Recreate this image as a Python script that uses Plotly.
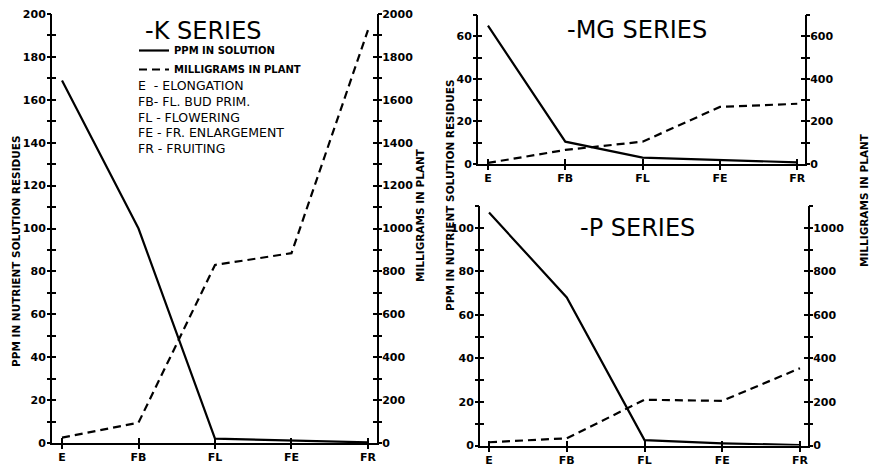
import plotly.graph_objects as go

# ---------------- data ----------------
stages = ["E", "FB", "FL", "FE", "FR"]

k_ppm = [169, 100, 2, 1, 0.3]
k_mg = [25, 95, 830, 885, 1925]

mg_ppm = [65, 10.5, 3, 1.8, 0.8]
mg_mg = [5, 66, 105, 268, 283]

p_ppm = [107, 68, 2.5, 1, 0.2]
p_mg = [15, 33, 210, 205, 355]

stage_key = [
    "E  - ELONGATION",
    "FB- FL. BUD PRIM.",
    "FL - FLOWERING",
    "FE - FR. ENLARGEMENT",
    "FR - FRUITING",
]
series_titles = ["-K SERIES", "-MG SERIES", "-P SERIES"]
ppm_title = "PPM IN NUTRIENT SOLUTION RESIDUES"
mg_title = "MILLIGRAMS IN PLANT"
legend_names = ["PPM IN SOLUTION", "MILLIGRAMS IN PLANT"]

# ---------------- layout helpers ----------------
W, H = 876, 466
def fx(px):
    return px / W
def fy(py):
    return 1 - py / H

FONT = "DejaVu Sans"
TICKFONT = dict(family=FONT, size=11, color="black", weight="bold")
XTICKFONT = dict(family=FONT, size=11, color="black", weight="bold")
LW = 2

fig = go.Figure()

panels = [
    dict(ppm=k_ppm, mg=k_mg, xd=(52, 377), yd=(443, 14), xr=(-0.131, 4.118),
         r1=(0, 200), d1=20, r2=(0, 2000), d2=200),
    dict(ppm=mg_ppm, mg=mg_mg, xd=(478, 805), yd=(164, 15), xr=(-0.129, 4.10),
         r1=(0, 70), d1=20, r2=(0, 700), d2=200),
    dict(ppm=p_ppm, mg=p_mg, xd=(480, 808), yd=(445.5, 206), xr=(-0.116, 4.103),
         r1=(0, 110), d1=20, r2=(0, 1100), d2=200),
]

layout = {}
idx = list(range(len(stages)))
ax_counter = {"x": 0, "y": 0}

def new_axis(kind):
    ax_counter[kind] += 1
    n = ax_counter[kind]
    return (kind if n == 1 else f"{kind}{n}"), (f"{kind}axis" if n == 1 else f"{kind}axis{n}")

for i, p in enumerate(panels):
    xs, xk = new_axis("x")
    yls, ylk = new_axis("y")
    yrs, yrk = new_axis("y")
    xdom = [fx(p["xd"][0]), fx(p["xd"][1])]
    ydom = [fy(p["yd"][0]), fy(p["yd"][1])]
    layout[xk] = dict(domain=xdom, anchor=yls, range=list(p["xr"]), type="linear",
                      tickvals=idx, ticktext=stages, ticks="inside", ticklen=5,
                      tickwidth=1.5, tickcolor="black", showline=True, linecolor="black",
                      linewidth=LW, showgrid=False, zeroline=False, tickfont=XTICKFONT,
                      ticklabelstandoff=3, automargin=False, fixedrange=True)
    layout[ylk] = dict(domain=ydom, anchor=xs, range=list(p["r1"]), dtick=p["d1"], tick0=0,
                       ticks="inside", ticklen=4, tickwidth=1.5, tickcolor="black",
                       minor=dict(dtick=p["d1"] / 2, ticks="inside", ticklen=4, tickwidth=1.5,
                                  tickcolor="black"),
                       showline=True, linecolor="black", linewidth=LW, showgrid=False,
                       zeroline=False, tickfont=TICKFONT, side="left",
                       ticklabelstandoff=2, automargin=False)
    layout[yrk] = dict(overlaying=yls, anchor=xs, range=list(p["r2"]), dtick=p["d2"], tick0=0,
                       ticks="inside", ticklen=4, tickwidth=1.5, tickcolor="black",
                       minor=dict(dtick=p["d2"] / 2, ticks="inside", ticklen=4, tickwidth=1.5,
                                  tickcolor="black"),
                       showline=True, linecolor="black", linewidth=LW, showgrid=False,
                       zeroline=False, tickfont=TICKFONT, side="right",
                       ticklabelstandoff=1, automargin=False)
    p["axes"] = (xs, yls, yrs, xk, ylk, yrk)

    fig.add_trace(go.Scatter(x=idx, y=p["ppm"], xaxis=xs, yaxis=yls, mode="lines",
                             line=dict(color="black", width=2.2), name=legend_names[0],
                             showlegend=(i == 0), hoverinfo="skip"))
    fig.add_trace(go.Scatter(x=idx, y=p["mg"], xaxis=xs, yaxis=yrs, mode="lines",
                             line=dict(color="black", width=2.2, dash="8px,5px"),
                             name=legend_names[1], showlegend=(i == 0), hoverinfo="skip"))

# overlay axes giving the other half of the crossing ticks
for i, p in enumerate(panels):
    xs, yls, yrs, xk, ylk, yrk = p["axes"]
    for side, rng_key, d_key in (("left", "r1", "d1"), ("right", "r2", "d2")):
        ys, yk = new_axis("y")
        layout[yk] = dict(overlaying=yls, anchor=xs, side=side, range=list(p[rng_key]),
                          dtick=p[d_key], tick0=0, ticks="outside", ticklen=4, tickwidth=1.5,
                          tickcolor="black",
                          minor=dict(dtick=p[d_key] / 2, ticks="outside", ticklen=4,
                                     tickwidth=1.5, tickcolor="black"),
                          showticklabels=False, showline=False, showgrid=False,
                          zeroline=False, automargin=False)
        fig.add_trace(go.Scatter(x=[None], y=[None], xaxis=xs, yaxis=ys, showlegend=False,
                                 hoverinfo="skip"))
    xs2, xk2 = new_axis("x")
    layout[xk2] = dict(overlaying=xs, anchor=yls, range=list(p["xr"]), type="linear",
                       tickvals=idx, ticks="outside", ticklen=5, tickwidth=1.5,
                       tickcolor="black", showticklabels=False, showline=False,
                       showgrid=False, zeroline=False, automargin=False)
    fig.add_trace(go.Scatter(x=[None], y=[None], xaxis=xs2, yaxis=yls, showlegend=False,
                             hoverinfo="skip"))

annotations = []
for title, (cx, cy) in zip(series_titles, [(203, 31), (637, 30), (637, 228)]):
    annotations.append(dict(text=title, x=fx(cx), y=fy(cy), xref="paper", yref="paper",
                            xanchor="center", yanchor="middle", showarrow=False,
                            font=dict(family=FONT, size=24, color="black")))
for j, t in enumerate(stage_key):
    annotations.append(dict(text=t, x=fx(136), y=fy(86 + j * 15.5), xref="paper", yref="paper",
                            xanchor="left", yanchor="middle", showarrow=False,
                            font=dict(family=FONT, size=12.5, color="black")))
for t, (cx, cy) in [(ppm_title, (16, 251)), (mg_title, (420, 215)),
                    (ppm_title, (450, 195)), (mg_title, (864, 200))]:
    annotations.append(dict(text=t, x=fx(cx), y=fy(cy), xref="paper", yref="paper",
                            xanchor="center", yanchor="middle",
                            showarrow=False, textangle=-90,
                            font=dict(family=FONT, size=10.5, color="black", weight="bold")))

layout.update(
    width=W, height=H, margin=dict(l=0, r=0, t=0, b=0, autoexpand=False),
    paper_bgcolor="white", plot_bgcolor="rgba(0,0,0,0)",
    showlegend=True,
    legend=dict(x=fx(134), y=fy(36), xanchor="left", yanchor="top",
                bgcolor="rgba(0,0,0,0)", font=dict(family=FONT, size=10, color="black",
                                                   weight="bold"),
                tracegroupgap=0, itemwidth=30),
    annotations=annotations,
)
fig.update_layout(**layout)
fig.write_html("out.html", config={"displayModeBar": False},
               post_script="document.body.style.margin='0px';"
                           "document.body.style.overflow='hidden';")
